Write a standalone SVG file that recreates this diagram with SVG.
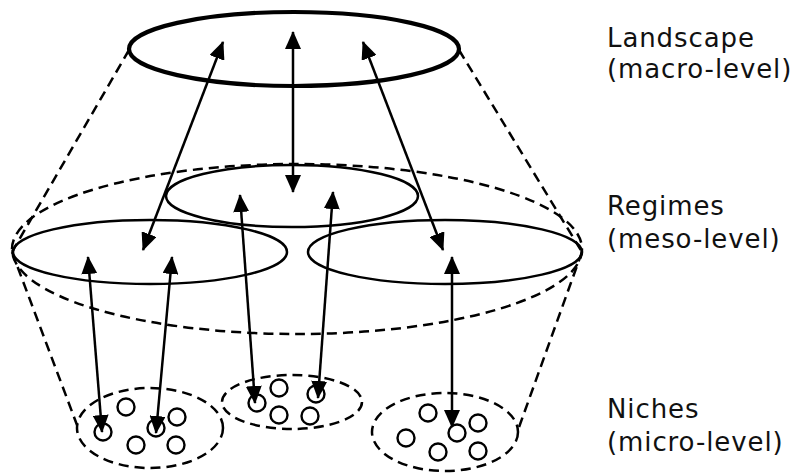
<svg xmlns="http://www.w3.org/2000/svg" width="808" height="476" viewBox="0 0 808 476">
<style>
.solid{fill:none;stroke:#000;stroke-width:2.5}
.thick{fill:none;stroke:#000;stroke-width:4.2}
.dash{fill:none;stroke:#000;stroke-width:2.5;stroke-dasharray:10 6}
.circ{fill:none;stroke:#000;stroke-width:2.4}
.arr{fill:none;stroke:#000;stroke-width:2.5;marker-end:url(#ah);marker-start:url(#ah)}
.lbl{font-family:"DejaVu Sans",Verdana,sans-serif;font-size:26px;fill:#111;letter-spacing:0.9px}
</style>
<defs>
<marker id="ah" viewBox="0 0 18 16" refX="17" refY="8" markerWidth="18" markerHeight="16" markerUnits="userSpaceOnUse" orient="auto-start-reverse">
<path d="M0,0 L18,8 L0,16 z" fill="#000"/>
</marker>
</defs>
<rect width="808" height="476" fill="#fff"/>
<g id="cone">
<line class="dash" x1="129" y1="50" x2="12" y2="252"/>
<line class="dash" x1="459" y1="50" x2="582" y2="252"/>
<line class="dash" x1="12" y1="252" x2="77" y2="425"/>
<line class="dash" x1="582" y1="252" x2="518" y2="430"/>
<ellipse id="regime-envelope" class="dash" cx="297" cy="249" rx="285" ry="85"/>
</g>
<g id="landscape"><ellipse class="thick" cx="294" cy="49" rx="165" ry="37"/></g>
<g id="regime-center"><ellipse class="solid" cx="292" cy="196" rx="126" ry="31"/></g>
<g id="regime-left"><ellipse class="solid" cx="150" cy="252" rx="137" ry="32"/></g>
<g id="regime-right"><ellipse class="solid" cx="445" cy="252" rx="137" ry="32"/></g>
<g id="niche-left">
<ellipse class="dash" cx="150" cy="428" rx="73" ry="40"/>
<circle class="circ" cx="126" cy="407" r="8.5"/>
<circle class="circ" cx="103" cy="432" r="8.5"/>
<circle class="circ" cx="156" cy="428" r="8.5"/>
<circle class="circ" cx="177" cy="417" r="8.5"/>
<circle class="circ" cx="136" cy="445" r="8.5"/>
<circle class="circ" cx="176" cy="445" r="8.5"/>
</g>
<g id="niche-center">
<ellipse class="dash" cx="292" cy="402" rx="70" ry="27"/>
<circle class="circ" cx="279" cy="388" r="8.5"/>
<circle class="circ" cx="257" cy="403" r="8.5"/>
<circle class="circ" cx="316" cy="394" r="8.5"/>
<circle class="circ" cx="279" cy="415" r="8.5"/>
<circle class="circ" cx="310" cy="416" r="8.5"/>
</g>
<g id="niche-right">
<ellipse class="dash" cx="445" cy="432" rx="73" ry="39"/>
<circle class="circ" cx="428" cy="413" r="8.5"/>
<circle class="circ" cx="478" cy="423" r="8.5"/>
<circle class="circ" cx="406" cy="438" r="8.5"/>
<circle class="circ" cx="457" cy="433" r="8.5"/>
<circle class="circ" cx="438" cy="452" r="8.5"/>
<circle class="circ" cx="478" cy="451" r="8.5"/>
</g>
<g id="connectors">
<line class="arr" x1="293" y1="32" x2="293" y2="192"/>
<line class="arr" x1="223" y1="42" x2="143" y2="250"/>
<line class="arr" x1="363" y1="42" x2="443" y2="250"/>
<line class="arr" x1="88" y1="257" x2="102" y2="432"/>
<line class="arr" x1="172" y1="257" x2="156" y2="433"/>
<line class="arr" x1="240" y1="195" x2="255" y2="403"/>
<line class="arr" x1="333" y1="192" x2="318" y2="398"/>
<line class="arr" x1="452" y1="257" x2="452" y2="427"/>
</g>
<g id="labels">
<text class="lbl" x="607" y="47">Landscape</text>
<text class="lbl" x="607" y="78">(macro-level)</text>
<text class="lbl" x="607" y="215">Regimes</text>
<text class="lbl" x="607" y="248">(meso-level)</text>
<text class="lbl" x="607" y="418">Niches</text>
<text class="lbl" x="607" y="451">(micro-level)</text>
</g>
</svg>
